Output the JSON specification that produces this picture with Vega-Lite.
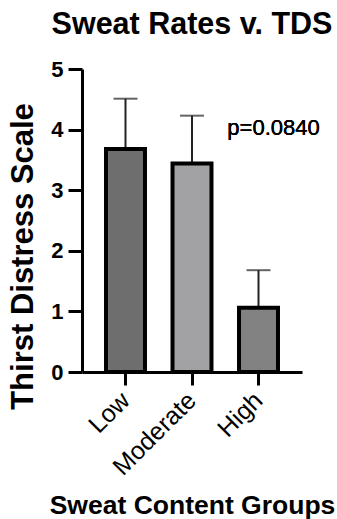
{
  "$schema": "https://vega.github.io/schema/vega-lite/v6.json",
  "width": 220,
  "height": 303,
  "autosize": "none",
  "padding": {"left": 82, "top": 69, "right": 35, "bottom": 147},
  "background": "white",
  "title": {
    "text": "Sweat Rates v. TDS",
    "font": "Liberation Sans",
    "fontSize": 30.5,
    "fontWeight": "bold",
    "color": "black",
    "anchor": "middle",
    "baseline": "alphabetic",
    "offset": -6
  },
  "config": {
    "view": {"stroke": null},
    "font": "Liberation Sans"
  },
  "data": {
    "values": [
      {"group": "Low", "mean": 3.68, "upper": 4.51},
      {"group": "Moderate", "mean": 3.44, "upper": 4.23},
      {"group": "High", "mean": 1.06, "upper": 1.68}
    ]
  },
  "encoding": {
    "x": {
      "field": "group",
      "type": "nominal",
      "sort": ["Low", "Moderate", "High"],
      "scale": {"paddingInner": 0.414, "paddingOuter": 0.361},
      "axis": {
        "title": "Sweat Content Groups",
        "titleFont": "Liberation Sans",
        "titleFontSize": 26.5,
        "titleFontWeight": "bold",
        "titleColor": "black",
        "titleBaseline": "alphabetic",
        "titleY": 141,
        "labelAngle": -45,
        "labelAlign": "right",
        "labelBaseline": "middle",
        "labelFontSize": 25,
        "labelColor": "black",
        "labelPadding": 11,
        "domainColor": "black",
        "domainWidth": 3,
        "tickColor": "black",
        "tickWidth": 3,
        "tickSize": 13
      }
    }
  },
  "layer": [
    {
      "mark": {"type": "rule", "color": "#222222", "strokeWidth": 2},
      "encoding": {
        "y": {"field": "mean", "type": "quantitative"},
        "y2": {"field": "upper"}
      }
    },
    {
      "mark": {"type": "tick", "color": "#222222", "thickness": 2, "size": 24, "orient": "horizontal"},
      "encoding": {
        "y": {"field": "upper", "type": "quantitative"}
      }
    },
    {
      "mark": {"type": "bar", "stroke": "black", "strokeWidth": 4},
      "encoding": {
        "y": {
          "field": "mean",
          "type": "quantitative",
          "scale": {"domain": [0, 5], "nice": false},
          "axis": {
            "title": "Thirst Distress Scale",
            "titleFont": "Liberation Sans",
            "titleFontSize": 31,
            "titleFontWeight": "bold",
            "titleColor": "black",
            "titleBaseline": "middle",
            "titleX": -59,
            "titleY": 187,
            "values": [0, 1, 2, 3, 4, 5],
            "format": "d",
            "grid": false,
            "labelFontSize": 22,
            "labelFontWeight": "bold",
            "labelColor": "black",
            "labelPadding": 5,
            "domainColor": "black",
            "domainWidth": 3,
            "tickColor": "black",
            "tickWidth": 3,
            "tickSize": 14
          }
        },
        "color": {
          "field": "group",
          "type": "nominal",
          "scale": {"domain": ["Low", "Moderate", "High"], "range": ["#6e6e6e", "#a2a2a5", "#828282"]},
          "legend": null
        }
      }
    },
    {
      "mark": {"type": "text", "text": "p=0.0840", "fontSize": 22, "align": "center", "baseline": "middle", "dx": 15, "color": "black"},
      "encoding": {
        "x": {"datum": "High"},
        "y": {"datum": 4.03}
      }
    }
  ]
}
